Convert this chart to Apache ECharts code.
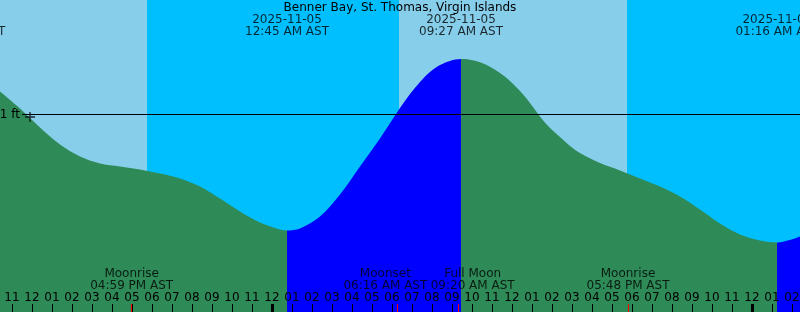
<!DOCTYPE html>
<html><head><meta charset="utf-8">
<script src="https://cdn.jsdelivr.net/npm/echarts@6/dist/echarts.min.js"></script>
<style>html,body{margin:0;padding:0;background:#87CEEB}#c{width:800px;height:312px}</style>
</head><body><div id="c"></div>
<script>
// ---------- data (times are hours since 2025-11-04 00:00 AST) ----------
const stationName = 'Benner Bay, St. Thomas, Virgin Islands';
const axisStart = 10.4;
const axisEnd = 50.4;
const tideTimes = [10.4, 11.4, 12.4, 13.4, 14.4, 15.4, 16.4, 17.4, 18.4, 19.4, 20.4, 21.4, 22.4, 23.4, 24.4, 24.75,
  25.4, 26.4, 27.4, 28.4, 29.4, 30.4, 30.9, 31.4, 31.9, 32.4, 32.9, 33.45,
  33.9, 34.4, 34.9, 35.4, 35.9, 36.4, 36.9, 37.4, 37.9, 38.4, 38.9, 39.4, 40.4, 41.4, 42.4, 43.4, 44.4, 45.4, 46.4, 47.4, 48.4, 49.267, 50.4];
const tideHeights = [1.115, 1.03, 0.935, 0.85, 0.79, 0.755, 0.74, 0.725, 0.705, 0.68, 0.64, 0.58, 0.515, 0.46, 0.425, 0.42,
  0.43, 0.49, 0.60, 0.74, 0.88, 1.032, 1.102, 1.162, 1.212, 1.247, 1.268, 1.277,
  1.274, 1.261, 1.239, 1.207, 1.167, 1.117, 1.058, 0.99, 0.932, 0.887, 0.842, 0.807, 0.757, 0.72, 0.68, 0.64, 0.59, 0.525, 0.455, 0.40, 0.37, 0.36, 0.39];
const tideEventTimes = [8.567, 24.75, 33.45, 49.267];
const tideEventKinds = ['high', 'low', 'high', 'low'];
const tideEventDates = ['2025-11-04', '2025-11-05', '2025-11-05', '2025-11-06'];
const tideEventClock = ['08:34 AM AST', '12:45 AM AST', '09:27 AM AST', '01:16 AM AST'];
const sunsetTimes = [17.75, 41.75];
const sunriseTimes = [30.35, 54.35];
const moonEventTimes = [16.983, 30.267, 33.333, 41.8];
const moonEventNames = ['Moonrise', 'Moonset', 'Full Moon', 'Moonrise'];
const moonEventClock = ['04:59 PM AST', '06:16 AM AST', '09:20 AM AST', '05:48 PM AST'];
const hourTicks = [11, 12, 13, 14, 15, 16, 17, 18, 19, 20, 21, 22, 23, 24, 25, 26, 27, 28, 29, 30,
  31, 32, 33, 34, 35, 36, 37, 38, 39, 40, 41, 42, 43, 44, 45, 46, 47, 48, 49, 50];
const midnightTicks = [24, 48];
const datumLevel = 1;
const datumLabel = '1 ft';
const nowMark = [11.9, 0.9875];

// ---------- styling / layout ----------
const FONT = 'DejaVu Sans';
const DAY = '#87CEEB', NIGHT = '#00BFFF', RISE = '#0000FF', FALL = '#2E8B57';
const yMin = 0.0125, yMax = 1.5725;
const datumLineStart = 11.5;
const moonLabelDx = [0, -12, 14, 0];

const pieces = [];
let prev = null;
tideEventTimes.forEach((t, i) => {
  const col = tideEventKinds[i] === 'high' ? RISE : FALL;
  const p = { lt: t, color: col };
  if (prev !== null) p.gte = prev;
  pieces.push(p);
  prev = t;
});
pieces.push({ gte: prev, color: tideEventKinds[tideEventKinds.length - 1] === 'low' ? RISE : FALL });

const nightAreas = sunsetTimes.map((s, i) => [{ xAxis: s }, { xAxis: Math.min(sunriseTimes[i], axisEnd) }]);

const hourFmt = v => { const h = ((Math.round(v) - 1) % 12 + 12) % 12 + 1; return (h < 10 ? '0' : '') + h; };

const baseX = {
  type: 'value', min: axisStart, max: axisEnd, position: 'bottom', offset: 0, z: 10,
  axisLine: { show: false }, splitLine: { show: false }
};

const chart = echarts.init(document.getElementById('c'), null, { renderer: 'canvas' });
chart.setOption({
  backgroundColor: DAY,
  animation: false,
  title: { text: stationName, left: 'center', top: 2, padding: 0,
    textStyle: { fontSize: 12, fontWeight: 'normal', color: '#000', fontFamily: FONT } },
  grid: { left: 0, right: 0, top: 0, bottom: 0, containLabel: false, outerBoundsMode: 'none' },
  visualMap: { type: 'piecewise', show: false, dimension: 0, seriesIndex: 0, pieces: pieces },
  xAxis: [
    Object.assign({}, baseX, {
      axisTick: { show: true, inside: true, length: 8, customValues: hourTicks, lineStyle: { color: '#000', width: 1 } },
      axisLabel: { show: true, inside: true, margin: 8, customValues: hourTicks, formatter: hourFmt,
        color: '#000', fontSize: 12, fontFamily: FONT }
    }),
    Object.assign({}, baseX, {
      axisTick: { show: true, inside: true, length: 8, customValues: midnightTicks, lineStyle: { color: '#000', width: 3 } },
      axisLabel: { show: false }
    }),
    Object.assign({}, baseX, {
      axisTick: { show: true, inside: true, length: 8, customValues: moonEventTimes, lineStyle: { color: '#FF0000', width: 1 } },
      axisLabel: { show: false }
    })
  ],
  yAxis: { type: 'value', min: yMin, max: yMax, show: false },
  series: [
    {
      type: 'line', xAxisIndex: 0, z: 2,
      data: tideTimes.map((t, i) => [t, tideHeights[i]]),
      smooth: 0.33, symbol: 'none', silent: true,
      lineStyle: { width: 0, opacity: 0 },
      areaStyle: { origin: 'start', opacity: 1 },
      markArea: { silent: true, itemStyle: { color: NIGHT, opacity: 1 }, data: nightAreas },
      markLine: {
        silent: true, symbol: ['none', 'none'], animation: false,
        lineStyle: { color: '#000', width: 1, type: 'solid' },
        label: { show: true, position: 'start', formatter: datumLabel, distance: 2, color: '#000', fontSize: 12, fontFamily: FONT },
        data: [[{ coord: [datumLineStart, datumLevel] }, { coord: [axisEnd, datumLevel] }]]
      }
    },
    {
      type: 'scatter', xAxisIndex: 0, z: 6, silent: true, clip: false, symbolSize: 0,
      data: tideEventTimes.map(t => [t, yMax]),
      label: { show: true, position: 'inside', offset: [0, 25.5], lineHeight: 12,
        color: '#000', fontSize: 12, fontFamily: FONT,
        formatter: p => tideEventDates[p.dataIndex] + '\n' + tideEventClock[p.dataIndex] }
    },
    {
      type: 'scatter', xAxisIndex: 0, z: 6, silent: true, clip: false, symbolSize: 0,
      data: moonEventTimes.map((t, i) => ({ value: [t, yMin], label: { offset: [moonLabelDx[i], -32.5] } })),
      label: { show: true, position: 'inside', lineHeight: 12,
        color: '#000', fontSize: 12, fontFamily: FONT,
        formatter: p => moonEventNames[p.dataIndex] + '\n' + moonEventClock[p.dataIndex] }
    },
    {
      type: 'scatter', xAxisIndex: 0, z: 6, silent: true,
      data: [nowMark],
      symbol: 'path://M0,5L10,5M5,0L5,10', symbolSize: [10, 10],
      itemStyle: { color: 'rgba(0,0,0,0)', borderColor: '#000', borderWidth: 1.3 }
    }
  ]
});
</script></body></html>
